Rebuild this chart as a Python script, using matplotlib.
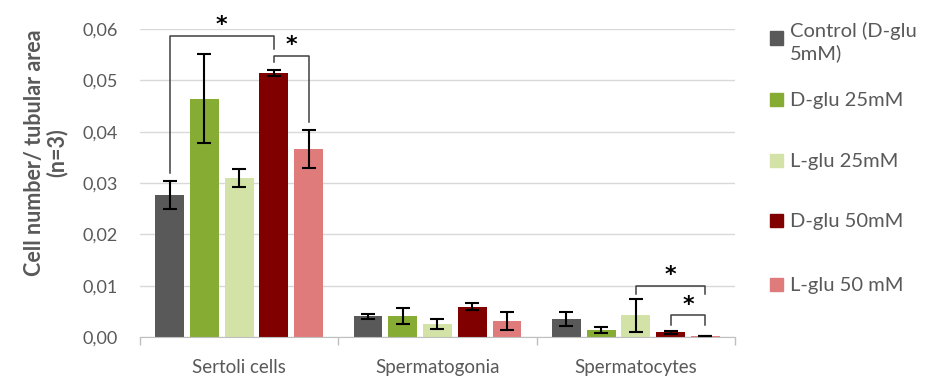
import numpy as np
import matplotlib
matplotlib.use("Agg")
import matplotlib.pyplot as plt
from matplotlib.patches import Rectangle

plt.rcParams["font.family"] = ["Lato", "DejaVu Sans"]

cell_types = ["Sertoli cells", "Spermatogonia", "Spermatocytes"]
groups = ["Control (D-glu\n5mM)", "D-glu 25mM", "L-glu 25mM", "D-glu 50mM", "L-glu 50 mM"]
colors = ["#595959", "#86AC34", "#D3E2A7", "#800000", "#E07B7B"]

means = {
    "Control (D-glu\n5mM)": [0.0277, 0.0040, 0.0035],
    "D-glu 25mM": [0.0464, 0.0041, 0.0013],
    "L-glu 25mM": [0.0310, 0.0025, 0.0042],
    "D-glu 50mM": [0.0515, 0.0059, 0.0009],
    "L-glu 50 mM": [0.0366, 0.0031, 0.0001],
}
errors = {
    "Control (D-glu\n5mM)": [0.0027, 0.0004, 0.0014],
    "D-glu 25mM": [0.0087, 0.0015, 0.0006],
    "L-glu 25mM": [0.0017, 0.0010, 0.0033],
    "D-glu 50mM": [0.0006, 0.0007, 0.0003],
    "L-glu 50 mM": [0.0037, 0.0017, 0.0],
}

# significance brackets: (cell type, group a, group b, top, left leg end, right leg end)
brackets = [
    (0, 0, 3, 0.0587, 0.0320, 0.0561),
    (0, 3, 4, 0.0548, 0.0535, 0.0419),
    (2, 2, 4, 0.0100, 0.0084, 0.0084),
    (2, 3, 4, 0.0042, 0.0023, 0.0023),
]

step = 0.175
width = 0.145
grey = "#595959"

fig = plt.figure(figsize=(9.29, 3.81), dpi=100)
ax = fig.add_axes([140 / 929, 44 / 381, 595 / 929, 308 / 381])

x = np.arange(len(cell_types))
for i, g in enumerate(groups):
    pos = x + (i - 2) * step
    ax.bar(pos, means[g], width, color=colors[i], zorder=2)
    ax.errorbar(pos, means[g], yerr=errors[g], fmt="none", ecolor="black",
                elinewidth=1.5, capsize=5, capthick=1.5, zorder=3)

for c, a, b, top, ya, yb in brackets:
    xa = c + (a - 2) * step
    xb = c + (b - 2) * step
    ax.plot([xa, xa, xb, xb], [ya, top, top, yb], color="#404040", lw=1.1, zorder=4)
    ax.text((xa + xb) / 2, top + 0.0001, "*", ha="center", va="bottom",
            fontsize=16, fontweight="bold", color="black", family="DejaVu Sans")

ax.set_xlim(-0.5, 2.5)
ax.set_ylim(0, 0.06)
ax.set_yticks(np.arange(0, 0.061, 0.01))
ax.set_yticklabels([f"{v:.2f}".replace(".", ",") for v in np.arange(0, 0.061, 0.01)])
ax.set_xticks(x)
ax.set_xticklabels(cell_types)
ax.set_xticks([-0.5, 0.5, 1.5, 2.5], minor=True)
ax.tick_params(axis="x", which="major", length=0, pad=16, labelsize=13.5, labelcolor=grey)
ax.tick_params(axis="x", which="minor", length=6, width=1, color="#bfbfbf", direction="out")
ax.tick_params(axis="y", length=0, pad=16, labelsize=13, labelcolor=grey)

ax.grid(axis="y", color="#d9d9d9", lw=1, zorder=0)
ax.set_axisbelow(True)
for s in ["top", "right", "left"]:
    ax.spines[s].set_visible(False)
ax.spines["bottom"].set_color("#bfbfbf")

ax.set_ylabel("Cell number/ tubular area\n(n=3)", fontsize=15.5, fontweight="bold",
              color=grey, linespacing=1.1)
ax.yaxis.set_label_coords(-0.121, 0.597)

# legend on the right
legend_y = [38, 99, 160, 220, 284]
for g, col, yp in zip(groups, colors, legend_y):
    fig.patches.append(Rectangle((770 / 929, 1 - (yp + 6.5) / 381), 13 / 929, 13 / 381,
                                 transform=fig.transFigure, color=col))
    fig.text(790 / 929, 1 - yp / 381, g, fontsize=14.5, color=grey,
             va="center_baseline", ha="left", linespacing=1.3)

fig.savefig("out.png", dpi=100)
